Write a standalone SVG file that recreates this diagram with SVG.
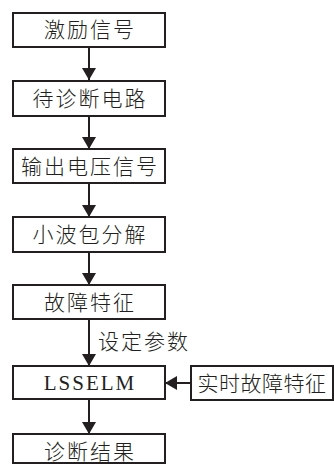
<svg xmlns="http://www.w3.org/2000/svg" width="334" height="464" viewBox="0 0 334 464">
<style>
.box{fill:#fff;stroke:#231f20;stroke-width:2}
.t{font-family:"Noto Sans CJK SC","Noto Sans",sans-serif;font-size:21px;font-weight:300;fill:#231f20;text-anchor:middle;letter-spacing:2px}
.e{font-family:"Liberation Serif",serif;font-size:21px;fill:#231f20;text-anchor:middle;letter-spacing:2px}
.c{stroke:#231f20;stroke-width:2;fill:none}
</style>
<defs>
<marker id="ah" viewBox="0 0 12 14" refX="12" refY="7" markerWidth="12" markerHeight="14" markerUnits="userSpaceOnUse" orient="auto">
<path d="M0,0 L12,7 L0,14 Z" fill="#231f20"/>
</marker>
</defs>
<g id="connectors">
<line class="c" x1="89" y1="47" x2="89" y2="80" marker-end="url(#ah)"/>
<line class="c" x1="89" y1="116" x2="89" y2="149" marker-end="url(#ah)"/>
<line class="c" x1="89" y1="183" x2="89" y2="217" marker-end="url(#ah)"/>
<line class="c" x1="89" y1="252" x2="89" y2="285" marker-end="url(#ah)"/>
<line class="c" x1="89" y1="319" x2="89" y2="366" marker-end="url(#ah)"/>
<line class="c" x1="191" y1="383" x2="165" y2="383" marker-end="url(#ah)"/>
<line class="c" x1="89" y1="399" x2="89" y2="434" marker-end="url(#ah)"/>
<text class="t" x="144" y="349">设定参数</text>
</g>
<g id="n1"><rect class="box" x="13" y="13" width="152" height="34"/><text class="t" x="90" y="37">激励信号</text></g>
<g id="n2"><rect class="box" x="13" y="81" width="152" height="35"/><text class="t" x="90" y="106">待诊断电路</text></g>
<g id="n3"><rect class="box" x="13" y="149" width="152" height="34"/><text class="t" x="90" y="174">输出电压信号</text></g>
<g id="n4"><rect class="box" x="13" y="217" width="152" height="35"/><text class="t" x="90" y="242">小波包分解</text></g>
<g id="n5"><rect class="box" x="13" y="285" width="152" height="34"/><text class="t" x="90" y="310">故障特征</text></g>
<g id="n6"><rect class="box" x="13" y="366" width="152" height="33"/><text class="e" x="90" y="390">LSSELM</text></g>
<g id="n7"><rect class="box" x="191" y="366" width="142" height="34"/><text class="t" x="262" y="391" style="letter-spacing:0.5px">实时故障特征</text></g>
<g id="n8"><rect class="box" x="13" y="434" width="152" height="29"/><text class="t" x="90" y="459">诊断结果</text></g>
</svg>
